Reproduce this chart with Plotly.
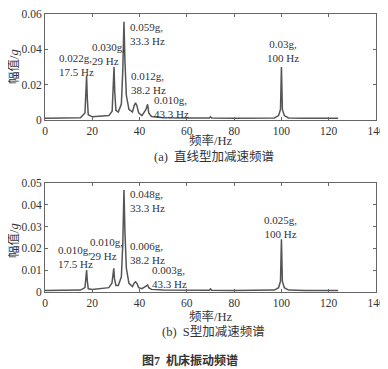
import plotly.graph_objects as go

# ---- data: (a) linear accel/decel spectrum ----
freq_a = [0, 5, 10, 15, 16.9, 17.3, 17.6, 17.9, 18.3, 20, 24, 27, 28.4, 28.9, 29.2, 29.5, 30.0,
          31, 32.3, 32.9, 33.4, 33.8, 34.4, 35.5, 37, 37.7, 38.3, 38.9, 39.6, 41, 42.7, 43.4, 43.9,
          45, 50, 60, 69.5, 70, 70.5, 80, 90, 97, 98.8, 99.6, 100, 100.4, 101.2, 103, 110, 124]
amp_a = [0.001, 0.001, 0.0011, 0.0013, 0.004, 0.018, 0.0249, 0.012, 0.003, 0.0018, 0.002, 0.0025, 0.005, 0.017, 0.030, 0.016, 0.0055,
         0.0045, 0.009, 0.028, 0.0556, 0.034, 0.014, 0.006, 0.0045, 0.008, 0.0098, 0.008, 0.004, 0.0025, 0.006, 0.0089, 0.004,
         0.002, 0.0013, 0.0011, 0.0011, 0.0018, 0.0011, 0.001, 0.001, 0.0012, 0.0025, 0.006, 0.030, 0.006, 0.0025, 0.0012, 0.001, 0.001]

# ---- data: (b) S-curve accel/decel spectrum ----
freq_b = [0, 5, 10, 15, 16.9, 17.3, 17.6, 17.9, 18.3, 20, 24, 27, 28.3, 28.8, 29.1, 29.4, 30.0,
          31, 32.3, 32.9, 33.4, 33.8, 34.4, 35.5, 37, 37.7, 38.3, 38.9, 39.6, 41, 42.7, 43.4, 43.9,
          45, 50, 60, 69.5, 70, 70.5, 80, 90, 97, 98.8, 99.6, 100, 100.4, 101.2, 103, 110, 124]
amp_b = [0.0007, 0.0007, 0.0008, 0.0009, 0.002, 0.007, 0.0101, 0.005, 0.0015, 0.0012, 0.0015, 0.002, 0.004, 0.008, 0.0109, 0.006, 0.003,
         0.003, 0.007, 0.022, 0.0468, 0.028, 0.011, 0.004, 0.0025, 0.004, 0.0047, 0.004, 0.002, 0.0015, 0.0025, 0.0032, 0.002,
         0.0012, 0.0009, 0.0008, 0.0008, 0.0014, 0.0008, 0.0007, 0.0007, 0.0009, 0.002, 0.005, 0.0242, 0.005, 0.002, 0.0009, 0.0007, 0.0007]

# peak labels
labels_a = ["0.022g,<br>17.5 Hz", "0.030g,<br>29 Hz", "0.059g,<br>33.3 Hz", "0.012g,<br>38.2 Hz", "0.010g,<br>43.3 Hz", "0.03g,<br>100 Hz"]
lab_x_a = [5.1, 19.0, 35.1, 35.5, 45.3, 100.7]
lab_y_a = [0.0314, 0.0371, 0.0484, 0.0209, 0.0076, 0.0393]
labels_b = ["0.010g,<br>17.5 Hz", "0.010g,<br>29 Hz", "0.048g,<br>33.3 Hz", "0.006g,<br>38.2 Hz", "0.003g,<br>43.3 Hz", "0.025g,<br>100 Hz"]
lab_x_b = [4.7, 18.2, 35.1, 35.1, 44.4, 99.4]
lab_y_b = [0.0161, 0.0197, 0.0417, 0.0179, 0.0070, 0.0300]

x_ticks = [0, 20, 40, 60, 80, 100, 120, 140]
y_ticks_a = [0, 0.02, 0.04, 0.06]
y_text_a = ["0", "0.02", "0.04", "0.06"]
y_ticks_b = [0, 0.01, 0.02, 0.03, 0.04, 0.05]
y_text_b = ["0", "0.01", "0.02", "0.03", "0.04", "0.05"]

FONT = "Liberation Serif, Times New Roman, Noto Sans CJK SC, serif"
LINE = "#555555"
OFF = 8                      # page body margin
W, H = 388 - OFF, 369 - OFF  # figure size


def px_x(x):
    return (x - OFF) / W


def px_y(y):
    return 1 - (y - OFF) / H


fig = go.Figure()
fig.add_trace(go.Scatter(x=freq_a, y=amp_a, mode="lines", line=dict(color=LINE, width=1.5),
                         xaxis="x", yaxis="y", showlegend=False))
fig.add_trace(go.Scatter(x=freq_b, y=amp_b, mode="lines", line=dict(color=LINE, width=1.5),
                         xaxis="x2", yaxis="y2", showlegend=False))

xdom = [px_x(45), px_x(376)]
ax_common = dict(showline=True, linecolor="#666", linewidth=1, mirror="ticks", ticks="inside",
                 ticklen=3, tickcolor="#666", showgrid=False, zeroline=False, automargin=False,
                 ticklabeloverflow="allow",
                 tickfont=dict(family=FONT, size=11.5, color="#333"))
fig.update_layout(
    width=W, height=H, margin=dict(l=0, r=0, t=0, b=0, autoexpand=False),
    paper_bgcolor="white", plot_bgcolor="white",
    font=dict(family=FONT, color="#333"),
    xaxis=dict(domain=xdom, range=[0, 140], tickvals=x_ticks, anchor="y", **ax_common),
    yaxis=dict(domain=[px_y(120), px_y(14)], range=[0, 0.06], tickvals=y_ticks_a,
               ticktext=y_text_a, anchor="x", **ax_common),
    xaxis2=dict(domain=xdom, range=[0, 140], tickvals=x_ticks, anchor="y2", **ax_common),
    yaxis2=dict(domain=[px_y(292), px_y(183)], range=[0, 0.05], tickvals=y_ticks_b,
                ticktext=y_text_b, anchor="x2", **ax_common),
)

anns = []
for t, x, y in zip(labels_a, lab_x_a, lab_y_a):
    c = x > 90
    anns.append(dict(x=x, y=y, xref="x", yref="y", text=t, showarrow=False,
                     xanchor="center" if c else "left", align="center" if c else "left",
                     yanchor="middle", font=dict(family=FONT, size=11, color="#333")))
for t, x, y in zip(labels_b, lab_x_b, lab_y_b):
    c = x > 90
    anns.append(dict(x=x, y=y, xref="x2", yref="y2", text=t, showarrow=False,
                     xanchor="center" if c else "left", align="center" if c else "left",
                     yanchor="middle", font=dict(family=FONT, size=11, color="#333")))


def paper(text, xpx, ypx, size, angle=0):
    return dict(x=px_x(xpx), y=px_y(ypx), xref="paper", yref="paper", text=text, showarrow=False,
                xanchor="center", yanchor="middle", textangle=angle,
                font=dict(family=FONT, size=size, color="#333"))


anns += [
    paper("频率/Hz", 211, 140, 12.5),
    paper("(a)  直线型加减速频谱", 214, 157, 12.5),
    paper("幅值/<i>g</i>", 13, 67, 12.5, -90),
    paper("频率/Hz", 211, 316, 12.5),
    paper("(b)  S型加减速频谱", 213, 332, 12.5),
    paper("幅值/<i>g</i>", 13, 241, 12.5, -90),
    paper("<b>图7  机床振动频谱</b>", 190, 360, 12),
]
fig.update_layout(annotations=anns)
fig.write_html("out.html")
